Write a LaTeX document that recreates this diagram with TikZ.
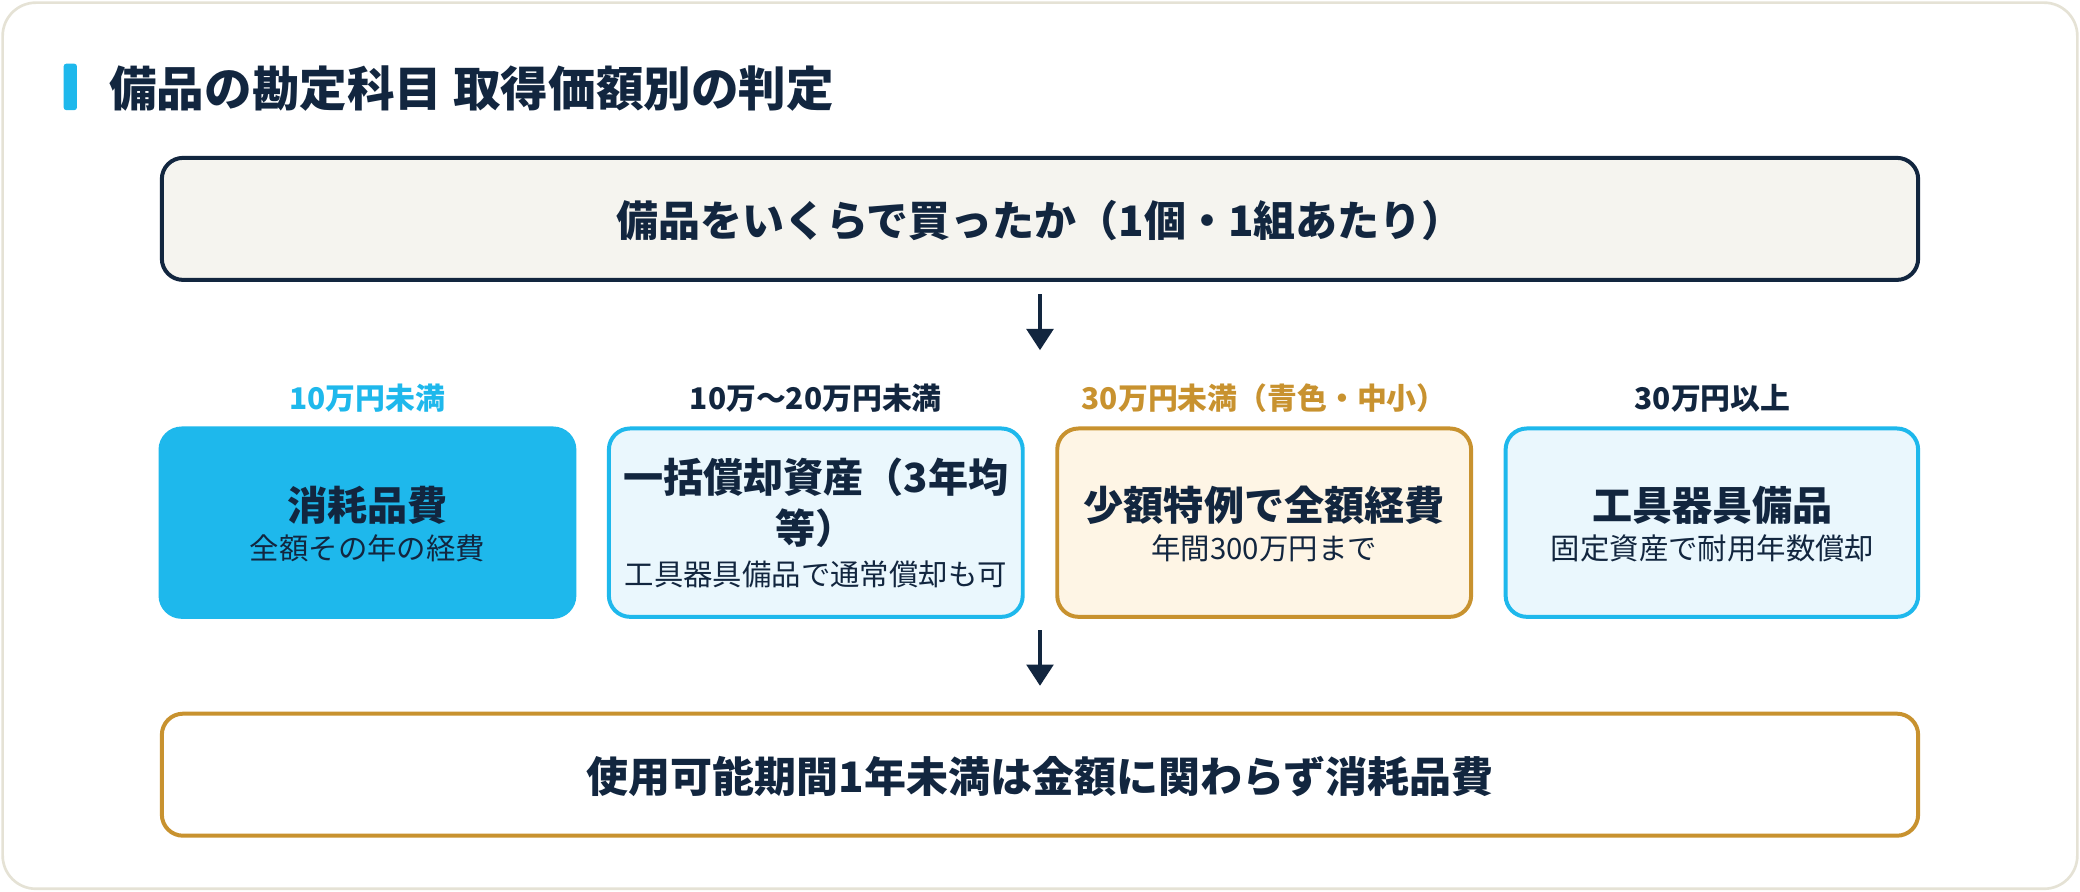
\documentclass[tikz,border=0pt]{standalone}
\usepackage{fontspec}
\setmainfont{Noto Sans CJK JP}
\usetikzlibrary{arrows.meta}
\definecolor{navy}{HTML}{12263F}
\definecolor{cyan}{HTML}{1EB8EC}
\definecolor{gold}{HTML}{C8922F}
\definecolor{lblue}{HTML}{EAF7FD}
\definecolor{lgold}{HTML}{FEF5E5}
\definecolor{cream}{HTML}{F5F4EF}
\definecolor{frame}{HTML}{E5E2D5}
\begin{document}
\begin{tikzpicture}[x=0.01cm,y=-0.01cm,
 box/.style={rounded corners=0.16cm,line width=0.03cm},
 arr/.style={-{Triangle[length=0.16cm,width=0.2cm]},line width=0.03cm,draw=navy},
 lab/.style={font=\fontsize{6.4pt}{7pt}\selectfont\bfseries,anchor=center},
 mainT/.style={font=\fontsize{8.6pt}{11pt}\selectfont\bfseries,text=navy,align=center},
 subT/.style={font=\fontsize{6.3pt}{8pt}\selectfont,text=navy,align=center}]
\useasboundingbox (0,0) rectangle (1568,672);
\draw[frame,fill=white,rounded corners=0.25cm,line width=0.02cm] (2,2) rectangle (1566,670);
\fill[cyan,rounded corners=0.02cm] (48,48) rectangle (58,83);
\node[anchor=west,text=navy,font=\fontsize{10.2pt}{12pt}\selectfont\bfseries] (title) at (70,67) {備品の勘定科目 取得価額別の判定};
\draw[box,draw=navy,fill=cream] (122,119) rectangle (1446,211);
\node[mainT,font=\fontsize{9pt}{11pt}\selectfont\bfseries] (top) at (784,166) {備品をいくらで買ったか（1個・1組あたり）};
\coordinate (a1s) at (784,222); \coordinate (a1e) at (784,264);
\draw[arr] (a1s) -- (a1e);
\node[lab,text=cyan] (l1) at (277,300) {10万円未満};
\node[lab,text=navy] (l2) at (615,300) {10万～20万円未満};
\node[lab,text=gold] (l3) at (953,300) {30万円未満（青色・中小）};
\node[lab,text=navy] (l4) at (1291,300) {30万円以上};
\draw[box,draw=cyan,fill=cyan] (121,323) rectangle (433,465);
\draw[box,draw=cyan,fill=lblue] (459,323) rectangle (771,465);
\draw[box,draw=gold,fill=lgold] (797,323) rectangle (1109,465);
\draw[box,draw=cyan,fill=lblue] (1135,323) rectangle (1446,465);
\node[mainT] (m1) at (277,381) {消耗品費};
\node[subT] (s1) at (277,413) {全額その年の経費};
\node[mainT] (m2) at (615,379) {一括償却資産（3年均\\等）};
\node[subT] (s2) at (615,433) {工具器具備品で通常償却も可};
\node[mainT] (m3) at (953,381) {少額特例で全額経費};
\node[subT] (s3) at (953,413) {年間300万円まで};
\node[mainT] (m4) at (1291,381) {工具器具備品};
\node[subT] (s4) at (1291,413) {固定資産で耐用年数償却};
\coordinate (a2s) at (784,475); \coordinate (a2e) at (784,517);
\draw[arr] (a2s) -- (a2e);
\draw[box,draw=gold,fill=white] (122,538) rectangle (1446,630);
\node[mainT,font=\fontsize{9pt}{11pt}\selectfont\bfseries] (bot) at (784,585) {使用可能期間1年未満は金額に関わらず消耗品費};
\end{tikzpicture}
\end{document}
